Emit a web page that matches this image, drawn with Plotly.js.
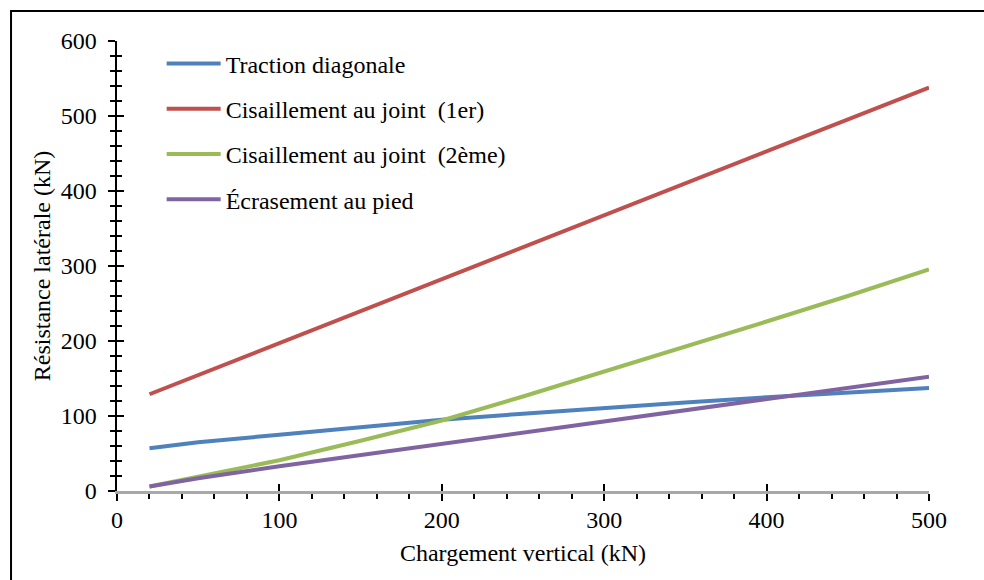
<!DOCTYPE html>
<html>
<head>
<meta charset="utf-8">
<script src="https://cdn.plot.ly/plotly-3.0.1.min.js"></script>
<style>
html,body{margin:0;padding:0;background:#fff;}
#chart{width:984px;height:580px;}
</style>
</head>
<body>
<div id="chart"></div>
<script>
// Chargement vertical (kN)
const chargement = [20, 50, 100, 150, 200, 250, 300, 350, 400, 450, 500];
// Résistance latérale (kN)
const tractionDiagonale = [57, 65, 75, 85, 95, 103, 111, 118, 125, 131, 137.5];
const cisaillement1er = [129, 154.5, 197, 240, 282, 325, 367.5, 410, 453, 495.5, 538];
const cisaillement2eme = [6, 19, 41, 67, 94, 126, 159, 192, 226, 260, 295.5];
const ecrasementPied = [6, 17, 33, 48, 63, 78, 93, 108, 123, 138, 152.5];

const seriesNames = ["Traction diagonale", "Cisaillement au joint  (1er)", "Cisaillement au joint  (2ème)", "Écrasement au pied"];
const seriesValues = [tractionDiagonale, cisaillement1er, cisaillement2eme, ecrasementPied];
const seriesColors = ["#4F81BD", "#C0504D", "#9BBB59", "#8064A2"];

const xTitle = "Chargement vertical (kN)";
const yTitle = "Résistance latérale (kN)";

const FONT = "Liberation Serif";
const FS = 24;

const traces = seriesNames.map((name, i) => ({
  type: "scatter",
  mode: "lines",
  name: name,
  x: chargement,
  y: seriesValues[i],
  line: {color: seriesColors[i], width: 4},
  legendgroup: "g" + i
}));
// helper trace for the overlay axes (inside half of crossing ticks)
traces.push({type: "scatter", mode: "lines", x: [], y: [], xaxis: "x2", yaxis: "y2", showlegend: false, hoverinfo: "skip"});

const layout = {
  width: 984, height: 580,
  margin: {l: 117, r: 55, t: 41, b: 89},
  paper_bgcolor: "#ffffff",
  plot_bgcolor: "#ffffff",
  font: {family: FONT, size: FS, color: "#000"},
  showlegend: true,
  legend: {
    x: 0.055, y: 0.999, xanchor: "left", yanchor: "top",
    bgcolor: "rgba(0,0,0,0)",
    font: {family: FONT, size: FS, color: "#000"},
    itemwidth: 54,
    traceorder: "grouped",
    tracegroupgap: 11
  },
  xaxis: {
    range: [0, 500], dtick: 100, tick0: 0,
    showgrid: false, zeroline: false,
    showline: true, linecolor: "#a9a9a9", linewidth: 3,
    ticks: "outside", ticklen: 7, tickwidth: 2, tickcolor: "#000",
    minor: {dtick: 20, ticks: "outside", ticklen: 5, tickwidth: 2, tickcolor: "#000", showgrid: false},
    tickfont: {family: FONT, size: FS, color: "#000"},
    ticklabelstandoff: -2,
    title: {text: xTitle, font: {family: FONT, size: FS, color: "#000"}, standoff: 13},
    fixedrange: true
  },
  yaxis: {
    range: [0, 600], dtick: 100, tick0: 0,
    showgrid: false, zeroline: false,
    showline: true, linecolor: "#000", linewidth: 2.5,
    ticks: "outside", ticklen: 7, tickwidth: 2, tickcolor: "#000",
    minor: {dtick: 20, ticks: "outside", ticklen: 5, tickwidth: 2, tickcolor: "#000", showgrid: false},
    tickfont: {family: FONT, size: FS, color: "#000"},
    ticklabelstandoff: 6,
    title: {text: yTitle, font: {family: FONT, size: FS, color: "#000"}, standoff: 4},
    fixedrange: true
  },
  xaxis2: {
    overlaying: "x", anchor: "y2", range: [0, 500], dtick: 100, tick0: 0,
    showgrid: false, zeroline: false, showline: false,
    ticks: "inside", ticklen: 7, tickwidth: 2, tickcolor: "#000",
    showticklabels: false, fixedrange: true
  },
  yaxis2: {
    overlaying: "y", anchor: "x2", range: [0, 600], dtick: 100, tick0: 0,
    showgrid: false, zeroline: false, showline: false,
    ticks: "inside", ticklen: 7, tickwidth: 2, tickcolor: "#000",
    minor: {dtick: 20, ticks: "inside", ticklen: 5, tickwidth: 2, tickcolor: "#000", showgrid: false},
    showticklabels: false, fixedrange: true
  },
  shapes: [{
    type: "rect", xref: "paper", yref: "paper",
    x0: -0.1305, x1: 1.2, y0: -0.4, y1: 1.0667,
    line: {color: "#000", width: 2}, fillcolor: "rgba(0,0,0,0)", layer: "below"
  }]
};

Plotly.newPlot("chart", traces, layout, {displayModeBar: false, staticPlot: true});
</script>
</body>
</html>
